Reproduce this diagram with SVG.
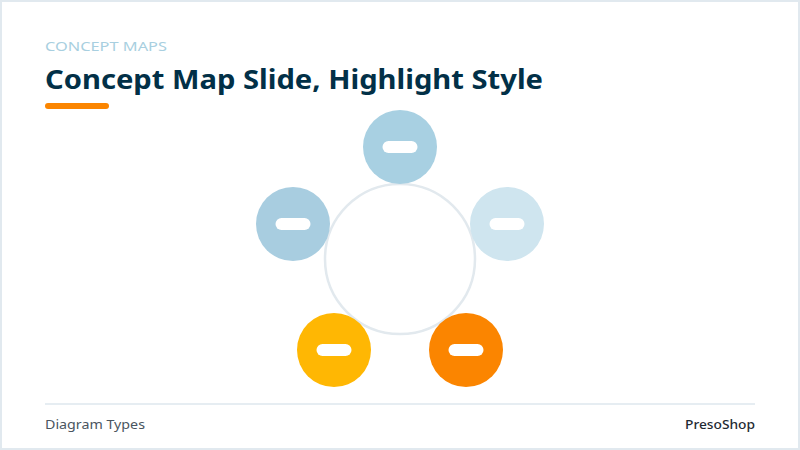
<svg xmlns="http://www.w3.org/2000/svg" width="800" height="450" viewBox="0 0 800 450">
<style>
.node-pill{fill:#ffffff}
.t{font-family:"Noto Sans","Liberation Sans",sans-serif}
</style>
<rect x="1" y="1" width="798" height="448" fill="#ffffff" stroke="#e1e9ef" stroke-width="2"/>
<text class="t" x="45" y="51" font-size="13" fill="#a8cfe0" textLength="122" lengthAdjust="spacingAndGlyphs">CONCEPT MAPS</text>
<text class="t" x="45" y="89" font-size="26" font-weight="bold" fill="#023047" textLength="498" lengthAdjust="spacingAndGlyphs">Concept Map Slide, Highlight Style</text>
<rect x="45" y="103" width="64" height="6" rx="3" fill="#fb8500"/>
<g id="connectors"></g>
<g id="center"><circle cx="400" cy="259" r="75" fill="#ffffff" stroke="#e2e9ee" stroke-width="2.5"/></g>
<g id="node-top"><circle cx="400" cy="147" r="37" fill="#a8d0e2"/><rect class="node-pill" x="382.5" y="141" width="35" height="12" rx="6"/></g>
<g id="node-left"><circle cx="293" cy="224" r="37" fill="#a8cde0"/><rect class="node-pill" x="275.5" y="218" width="35" height="12" rx="6"/></g>
<g id="node-right"><circle cx="507" cy="224" r="37" fill="#cfe5ef"/><rect class="node-pill" x="489.5" y="218" width="35" height="12" rx="6"/></g>
<g id="node-bottom-left"><circle cx="334" cy="350" r="37" fill="#ffb703"/><rect class="node-pill" x="316.5" y="344" width="35" height="12" rx="6"/></g>
<g id="node-bottom-right"><circle cx="466" cy="350" r="37" fill="#fb8500"/><rect class="node-pill" x="448.5" y="344" width="35" height="12" rx="6"/></g>
<line x1="45" y1="404" x2="755" y2="404" stroke="#e6edf2" stroke-width="2"/>
<text class="t" x="45" y="429" font-size="13" fill="#4a5560" textLength="100" lengthAdjust="spacingAndGlyphs">Diagram Types</text>
<text class="t" x="755" y="429" font-size="13" font-weight="500" fill="#1f2a33" text-anchor="end" textLength="70" lengthAdjust="spacingAndGlyphs">PresoShop</text>
</svg>
